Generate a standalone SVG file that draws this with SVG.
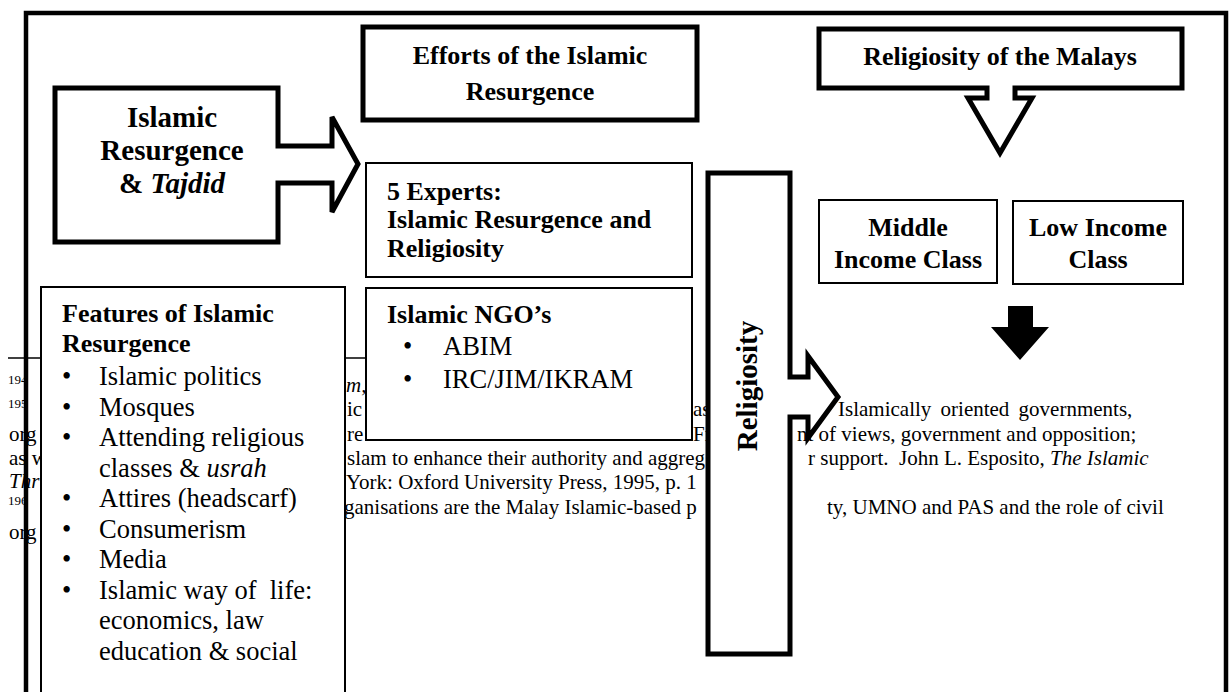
<svg xmlns="http://www.w3.org/2000/svg" width="1232" height="692" viewBox="0 0 1232 692">
<style>
.fn{font-family:"Liberation Serif","Times New Roman",serif;font-size:21px;fill:#000}
.sup{font-family:"Liberation Serif","Times New Roman",serif;font-size:13px;fill:#000}
.it{font-style:italic}
.thick{fill:#fff;stroke:#000;stroke-width:5;stroke-linejoin:miter}
.thin{fill:#fff;stroke:#000;stroke-width:2}
.hb{font-family:"Liberation Serif","Times New Roman",serif;font-size:26px;font-weight:bold;fill:#000}
.big{font-family:"Liberation Serif","Times New Roman",serif;font-size:29px;font-weight:bold;fill:#000}
.item{font-family:"Liberation Serif","Times New Roman",serif;font-size:26.5px;fill:#000}
.mid{text-anchor:middle}
</style>
<rect x="0" y="0" width="1232" height="692" fill="#fff"/>
<g id="footnotes">
<line x1="8" y1="358" x2="520" y2="358" stroke="#000" stroke-width="1.6"/>
<text class="sup" x="8" y="384">194</text>
<text class="sup" x="8" y="408">195</text>
<text class="sup" x="8" y="505">196</text>
<text class="fn" x="9" y="441">org</text>
<text class="fn" x="9" y="465">as w</text>
<text class="fn it" x="9" y="488">Thr</text>
<text class="fn" x="9" y="539">org</text>
<text class="fn it" x="346" y="392">m,</text>
<text class="fn" x="347" y="416">ic</text>
<text class="fn" x="347" y="441">re</text>
<text class="fn" x="347" y="465">slam to enhance their authority and aggreg</text>
<text class="fn" x="346" y="489">York: Oxford University Press, 1995, p. 1</text>
<text class="fn" x="344" y="514">ganisations are the Malay Islamic-based p</text>
<text class="fn" x="693" y="416">as</text>
<text class="fn" x="693" y="441">Fr</text>
<text class="fn" x="838" y="416" word-spacing="4">Islamically oriented governments,</text>
<text class="fn" x="797" y="441">nt of views, government and opposition;</text>
<text class="fn" x="808" y="465">r support.&#160; John L. Esposito, <tspan class="it">The Islamic</tspan></text>
<text class="fn" x="827" y="514">ty, UMNO and PAS and the role of civil</text>
</g>
<g id="frame">
<path d="M26,700 L26,13 L1226,13 L1226,700" fill="none" stroke="#000" stroke-width="4.5"/>
</g>
<g id="islamic-resurgence">
<polygon class="thick" points="55,88 278,88 278,146 332,146 332,117 358,164 332,212 332,183 278,183 278,242 55,242"/>
<text class="big mid" x="172" y="127">Islamic</text>
<text class="big mid" x="172" y="160">Resurgence</text>
<text class="big mid" x="172" y="193">&amp; <tspan font-style="italic">Tajdid</tspan></text>
</g>
<g id="efforts">
<rect class="thick" x="363" y="27" width="334" height="93"/>
<text class="hb mid" x="530" y="64">Efforts of the Islamic</text>
<text class="hb mid" x="530" y="100">Resurgence</text>
</g>
<g id="experts">
<rect class="thin" x="366" y="163" width="326" height="114"/>
<text class="hb" x="387" y="200">5 Experts:</text>
<text class="hb" x="387" y="228">Islamic Resurgence and</text>
<text class="hb" x="387" y="257">Religiosity</text>
</g>
<g id="ngos">
<rect class="thin" x="366" y="288" width="326" height="152"/>
<text class="hb" x="387" y="323">Islamic NGO’s</text>
<text class="item" x="403" y="355">•</text>
<text class="item" x="443" y="355">ABIM</text>
<text class="item" x="403" y="388">•</text>
<text class="item" x="443" y="388">IRC/JIM/IKRAM</text>
</g>
<g id="features">
<rect class="thin" x="41" y="287" width="304" height="420"/>
<text class="hb" x="62" y="322">Features of Islamic</text>
<text class="hb" x="62" y="352">Resurgence</text>
<text class="item" x="62" y="385">•</text><text class="item" x="99" y="385">Islamic politics</text>
<text class="item" x="62" y="415.5">•</text><text class="item" x="99" y="415.5">Mosques</text>
<text class="item" x="62" y="446">•</text><text class="item" x="99" y="446">Attending religious</text>
<text class="item" x="99" y="476.5">classes &amp; <tspan font-style="italic">usrah</tspan></text>
<text class="item" x="62" y="507">•</text><text class="item" x="99" y="507">Attires (headscarf)</text>
<text class="item" x="62" y="537.5">•</text><text class="item" x="99" y="537.5">Consumerism</text>
<text class="item" x="62" y="568">•</text><text class="item" x="99" y="568">Media</text>
<text class="item" x="62" y="598.5">•</text><text class="item" x="99" y="598.5">Islamic way of&#160; life:</text>
<text class="item" x="99" y="629">economics, law</text>
<text class="item" x="99" y="659.5">education &amp; social</text>
</g>
<g id="religiosity">
<polygon class="thick" points="708,173 790,173 790,377 808,377 808,356 838,397 808,438 808,417 790,417 790,654 708,654"/>
<text class="big mid" transform="translate(757,386) rotate(-90)">Religiosity</text>
</g>
<g id="religiosity-malays">
<polygon class="thick" points="819,29 1182,29 1182,88 1015,88 1015,98 1032,98 1000,153 968,98 987,98 987,88 819,88"/>
<text class="hb mid" x="1000" y="65">Religiosity of the Malays</text>
</g>
<g id="middle-income">
<rect class="thin" x="819" y="200" width="178" height="83"/>
<text class="hb mid" x="908" y="236">Middle</text>
<text class="hb mid" x="908" y="268">Income Class</text>
</g>
<g id="low-income">
<rect class="thin" x="1013" y="201" width="170" height="83"/>
<text class="hb mid" x="1098" y="236">Low Income</text>
<text class="hb mid" x="1098" y="268">Class</text>
</g>
<g id="connectors">
<polygon points="1008,306 1033,306 1033,327 1049,327 1020,360 991,327 1008,327" fill="#000"/>
</g>
</svg>
